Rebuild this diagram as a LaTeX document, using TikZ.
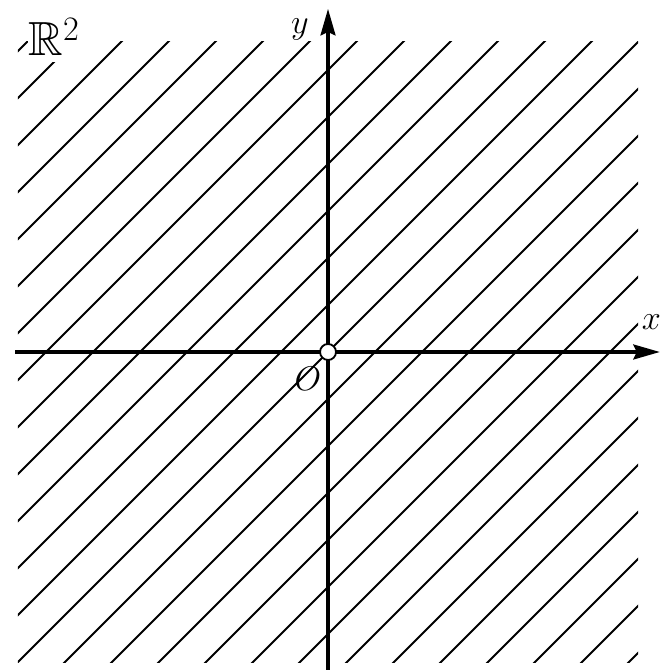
\documentclass[tikz,border=0pt]{standalone}
\usepackage{amssymb}
\usetikzlibrary{arrows.meta,positioning}

\tikzset{
  hatch/.style={line width=1.1pt},
  axis/.style={line width=2pt,-{Stealth[length=16pt,width=9pt,inset=2pt]}},
  origin/.style={circle,draw,fill=white,line width=1.1pt,minimum size=0.34cm,inner sep=0pt},
  lbl/.style={font=\fontsize{21}{25}\selectfont},
}

\begin{document}
\begin{tikzpicture}
        \useasboundingbox (-6.979,-6.766) rectangle (7.085,7.489);

        % hatched plane
        \begin{scope}
                \clip (-6.6,-6.6) rectangle (6.6,6.6);
                \foreach \k in {-13,...,13}
                        \draw[hatch] (-7,-7+\k) -- (7,7+\k);
        \end{scope}

        \node[fill=white,inner xsep=0pt,inner ysep=4pt,anchor=base west,
                font=\fontsize{29}{34}\selectfont] (plane) at (-6.38,6.3) {$\mathbb{R}^2$};

        % axes
        \coordinate (xstart) at (-6.65,0);
        \coordinate (xend) at (7.06,0);
        \coordinate (ystart) at (0,-6.8);
        \coordinate (yend) at (0,7.3);
        \draw[axis] (xstart) -- (xend);
        \draw[axis] (ystart) -- (yend);

        \node[origin] (O) at (0,0) {};
        \node[lbl] (Olabel) at (-0.43,-0.57) {$O$};
        \node[lbl] (xlabel) at (6.88,0.64) {$x$};
        \node[lbl] (ylabel) at (-0.6,6.87) {$y$};
\end{tikzpicture}
\end{document}
